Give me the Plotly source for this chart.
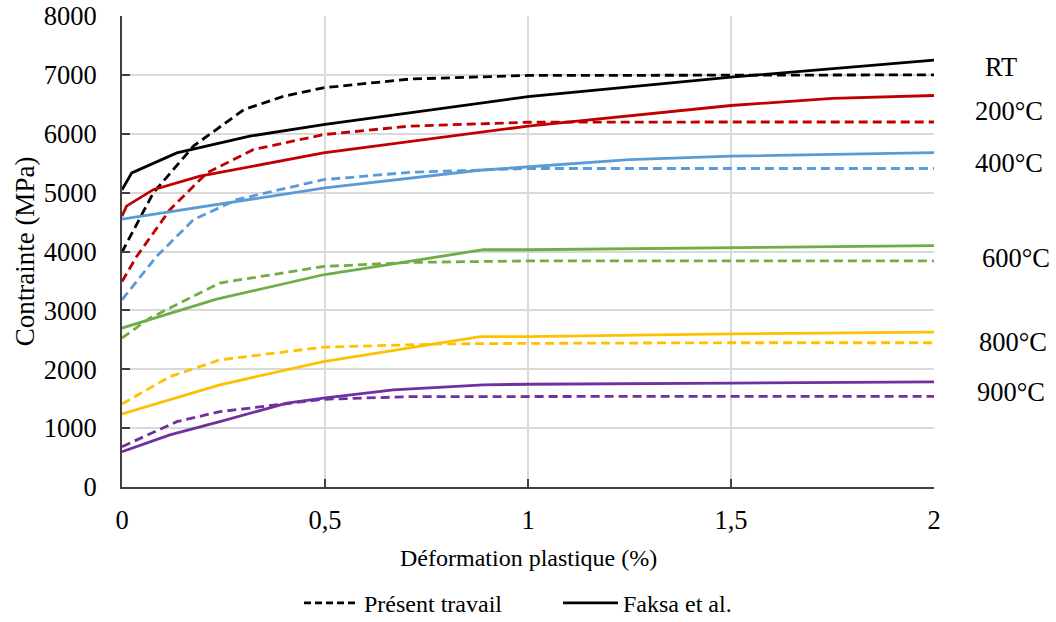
import plotly.graph_objects as go

# ---- data (strain %, stress MPa) ----
rt_p_x = [0, 0.003, 0.077, 0.176, 0.30, 0.40, 0.496, 0.71, 1.0, 1.5, 2.0]
rt_p_y = [3980, 4030, 4995, 5790, 6410, 6640, 6780, 6930, 6990, 7000, 7000]
rt_f_x = [0, 0.024, 0.135, 0.315, 0.496, 1.0, 1.5, 2.0]
rt_f_y = [5050, 5335, 5675, 5960, 6155, 6630, 6960, 7250]

t200_p_x = [0, 0.036, 0.118, 0.209, 0.323, 0.496, 0.709, 1.0, 1.5, 2.0]
t200_p_y = [3490, 3915, 4710, 5335, 5730, 5985, 6130, 6195, 6200, 6200]
t200_f_x = [0, 0.011, 0.077, 0.192, 0.496, 1.0, 1.5, 1.75, 2.0]
t200_f_y = [4600, 4770, 5050, 5280, 5675, 6130, 6480, 6600, 6650]

t400_p_x = [0, 0.085, 0.176, 0.282, 0.496, 0.709, 1.0, 1.5, 2.0]
t400_p_y = [3180, 3915, 4540, 4880, 5220, 5345, 5410, 5410, 5410]
t400_f_x = [0, 0.5, 0.88, 1.0, 1.25, 1.5, 2.0]
t400_f_y = [4550, 5080, 5380, 5440, 5560, 5620, 5680]

t600_p_x = [0, 0.069, 0.241, 0.496, 0.709, 1.0, 1.5, 2.0]
t600_p_y = [2530, 2870, 3465, 3745, 3815, 3840, 3840, 3840]
t600_f_x = [0, 0.233, 0.496, 0.89, 1.0, 1.5, 2.0]
t600_f_y = [2700, 3190, 3605, 4030, 4030, 4070, 4100]

t800_p_x = [0, 0.118, 0.241, 0.496, 0.79, 1.0, 1.5, 2.0]
t800_p_y = [1410, 1875, 2160, 2375, 2430, 2440, 2450, 2450]
t800_f_x = [0, 0.241, 0.496, 0.882, 1.0, 1.5, 2.0]
t800_f_y = [1240, 1735, 2130, 2555, 2555, 2600, 2630]

t900_p_x = [0, 0.135, 0.241, 0.496, 0.709, 1.0, 1.5, 2.0]
t900_p_y = [685, 1110, 1280, 1490, 1535, 1540, 1540, 1540]
t900_f_x = [0, 0.118, 0.241, 0.406, 0.496, 0.668, 0.89, 1.0, 1.5, 2.0]
t900_f_y = [600, 885, 1110, 1425, 1510, 1650, 1735, 1745, 1765, 1785]

series_names = ["RT", "200°C", "400°C", "600°C", "800°C", "900°C"]
series_colors = ["#000000", "#c00000", "#5b9bd5", "#70ad47", "#ffc000", "#7030a0"]
label_y = [7130, 6380, 5510, 3895, 2470, 1620]
label_xshift = [10, 0, 0, 7, 4, 2]

x_tickvals = [0, 0.5, 1, 1.5, 2]
x_ticktext = ["0", "0,5", "1", "1,5", "2"]
y_tickvals = [0, 1000, 2000, 3000, 4000, 5000, 6000, 7000, 8000]

present = [(rt_p_x, rt_p_y), (t200_p_x, t200_p_y), (t400_p_x, t400_p_y),
           (t600_p_x, t600_p_y), (t800_p_x, t800_p_y), (t900_p_x, t900_p_y)]
faksa = [(rt_f_x, rt_f_y), (t200_f_x, t200_f_y), (t400_f_x, t400_f_y),
         (t600_f_x, t600_f_y), (t800_f_x, t800_f_y), (t900_f_x, t900_f_y)]

FONT = "Liberation Serif, Times New Roman, serif"

fig = go.Figure()
for i in range(len(series_names)):
    fx, fy = faksa[i]
    px_, py_ = present[i]
    fig.add_trace(go.Scatter(x=fx, y=fy, mode="lines", showlegend=False,
                             line=dict(color=series_colors[i], width=2.8)))
    fig.add_trace(go.Scatter(x=px_, y=py_, mode="lines", showlegend=False,
                             line=dict(color=series_colors[i], width=2.8, dash="9px,5px")))

# legend entries
fig.add_trace(go.Scatter(x=[None], y=[None], mode="lines", name="Présent travail",
                         line=dict(color="#000000", width=2.8, dash="7px,4px")))
fig.add_trace(go.Scatter(x=[None], y=[None], mode="lines", name="Faksa et al.",
                         line=dict(color="#000000", width=2.8)))

for name, y, xs in zip(series_names, label_y, label_xshift):
    fig.add_annotation(x=1.048, xref="paper", y=y, yref="y", text=name,
                       showarrow=False, xanchor="left", yanchor="middle", xshift=xs,
                       font=dict(family=FONT, size=26.5, color="#000000"))

# x-axis title placed below the tick labels
fig.add_annotation(x=0.5, xref="paper", y=0, yref="paper", yshift=-71,
                   text="Déformation plastique (%)", showarrow=False,
                   xanchor="center", yanchor="middle",
                   font=dict(family=FONT, size=24, color="#000000"))

fig.update_layout(
    width=1056, height=622,
    margin=dict(l=122, r=122, t=16, b=135, autoexpand=False),
    paper_bgcolor="white", plot_bgcolor="white",
    font=dict(family=FONT, size=26.5, color="#000000"),
    separators=", ",
    legend=dict(orientation="h", x=0.218, xanchor="left",
                yref="container", y=0.03, yanchor="middle",
                font=dict(family=FONT, size=24), itemwidth=55,
                entrywidth=189, bgcolor="rgba(0,0,0,0)"),
    xaxis=dict(range=[0, 2], tickvals=x_tickvals, ticktext=x_ticktext,
               automargin=False,
               showgrid=True, gridcolor="#d9d9d9", gridwidth=1.5,
               showline=True, linecolor="#404040", linewidth=2,
               ticks="inside", ticklen=8, tickcolor="#404040", tickwidth=1.5,
               ticklabelstandoff=8, zeroline=False,
               tickfont=dict(family=FONT, size=26.5)),
    yaxis=dict(range=[0, 8000], tickvals=y_tickvals,
               automargin=False,
               showgrid=True, gridcolor="#d9d9d9", gridwidth=1.5,
               showline=True, linecolor="#404040", linewidth=2,
               ticks="inside", ticklen=8, tickcolor="#404040", tickwidth=1.5,
               ticklabelstandoff=18, zeroline=False,
               tickfont=dict(family=FONT, size=26.5),
               title=dict(text="Contrainte (MPa)", standoff=1,
                          font=dict(family=FONT, size=27))),
)

fig.write_html(
    "out.html",
    config={"displayModeBar": False},
    post_script="document.body.style.margin='0';document.documentElement.style.overflow='hidden';",
)
